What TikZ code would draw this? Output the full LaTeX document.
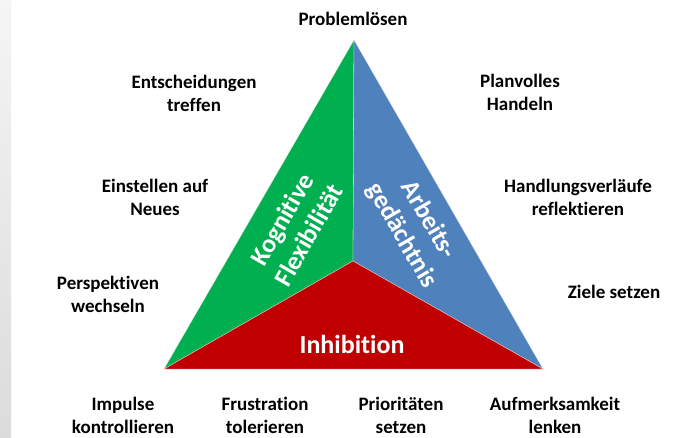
\documentclass[tikz,border=0pt]{standalone}
\usepackage{fontspec}
\setmainfont{Carlito}[RawFeature={-liga;-clig}]
\begin{document}
\begin{tikzpicture}[x=1pt,y=-1pt,
  lbl/.style={font=\fontsize{19}{23}\selectfont\bfseries, align=center, text=black, inner sep=0pt},
  inlbl/.style={font=\fontsize{26}{31}\selectfont\bfseries, align=center, text=white, inner sep=0pt},
  part/.style={draw=white!80!gray, line width=0.3pt, line join=round}]
\definecolor{kgreen}{HTML}{00B050}
\definecolor{kblue}{HTML}{4F81BD}
\definecolor{kred}{HTML}{C00000}
\useasboundingbox (0,0) rectangle (682,437);
\fill[white] (0,0) rectangle (682,437);
\shade[top color=gray!8, bottom color=gray!28] (0,0) rectangle (11,437);

\coordinate (A) at (354,40);
\coordinate (L) at (164,369);
\coordinate (R) at (543,369);
\coordinate (C) at (353,261);

\fill[kgreen, part] (A) -- (C) -- (L) -- cycle;
\fill[kblue, part] (A) -- (R) -- (C) -- cycle;
\fill[kred, part] (L) -- (C) -- (R) -- cycle;

\node[inlbl, rotate=60] (kf) at (295,227) {Kognitive\\Flexibilität};
\node[inlbl, rotate=-60] (ag) at (415,228) {Arbeits-\\gedächtnis};
\node[inlbl] (inh) at (352,344) {Inhibition};

\node[lbl] (pl) at (353,19) {Problemlösen};
\node[lbl] (et) at (194,93) {Entscheidungen\\treffen};
\node[lbl] (ph) at (520,92) {Planvolles\\Handeln};
\node[lbl] (en) at (155,197) {Einstellen auf\\Neues};
\node[lbl] (hr) at (578,197) {Handlungsverläufe\\reflektieren};
\node[lbl] (pw) at (108,294) {Perspektiven\\wechseln};
\node[lbl] (zs) at (614,292) {Ziele setzen};
\node[lbl] (ik) at (123,415) {Impulse\\kontrollieren};
\node[lbl] (ft) at (265,415) {Frustration\\tolerieren};
\node[lbl] (ps) at (401,415) {Prioritäten\\setzen};
\node[lbl] (al) at (555,415) {Aufmerksamkeit\\lenken};
\end{tikzpicture}
\end{document}
